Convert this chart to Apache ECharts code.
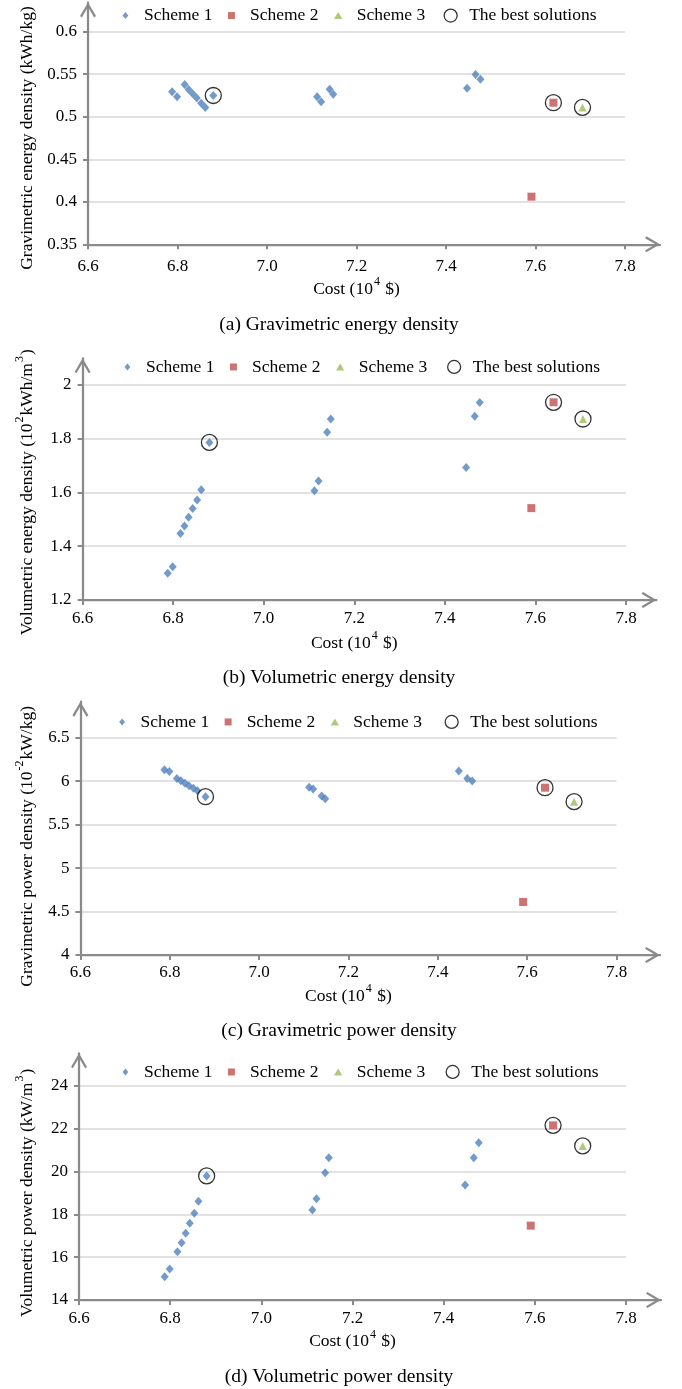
<!DOCTYPE html>
<html>
<head>
<meta charset="utf-8">
<script src="https://cdn.jsdelivr.net/npm/echarts@6/dist/echarts.min.js"></script>
<style>
html,body{margin:0;padding:0;background:#fff;}
#chart{width:682px;height:1389px;}
</style>
</head>
<body>
<div id="chart"></div>
<script>
// ---------------- DATA ----------------
const costScheme1 = [6.788, 6.799, 6.816, 6.825, 6.834, 6.843, 6.853, 6.862, 6.880, 7.112, 7.121, 7.140, 7.148, 7.447, 7.466, 7.477];
const costScheme2 = [7.591, 7.640];
const costScheme3 = [7.705];
// index of the circled ("best") solution inside each scheme
const bestIndex = [8, 1, 0];

const costTicks = { min: 6.6, max: 7.8, step: 0.2 };

// (a) gravimetric energy density, kWh/kg
const gedScheme1 = [0.5295, 0.5236, 0.538, 0.532, 0.527, 0.522, 0.516, 0.511, 0.525, 0.5236, 0.5177, 0.5322, 0.5263, 0.5334, 0.5498, 0.5440];
const gedScheme2 = [0.406, 0.5165];
const gedScheme3 = [0.511];
const gedTicks = { min: 0.35, max: 0.6, step: 0.05 };

// (b) volumetric energy density, 10^2 kWh/m^3
const vedScheme1 = [1.299, 1.323, 1.447, 1.475, 1.507, 1.540, 1.571, 1.609, 1.785, 1.606, 1.642, 1.823, 1.872, 1.692, 1.882, 1.933];
const vedScheme2 = [1.541, 1.934];
const vedScheme3 = [1.872];
const vedTicks = { min: 1.2, max: 2, step: 0.2 };

// (c) gravimetric power density, 10^-2 kW/kg
const gpdScheme1 = [6.13, 6.11, 6.032, 6.005, 5.975, 5.948, 5.917, 5.890, 5.821, 5.929, 5.910, 5.829, 5.798, 6.117, 6.032, 6.002];
const gpdScheme2 = [4.61, 5.925];
const gpdScheme3 = [5.764];
const gpdTicks = { min: 4, max: 6.5, step: 0.5 };

// (d) volumetric power density, kW/m^3
const vpdScheme1 = [15.09, 15.45, 16.25, 16.67, 17.11, 17.58, 18.05, 18.61, 19.79, 18.20, 18.73, 19.94, 20.64, 19.37, 20.64, 21.34];
const vpdScheme2 = [17.47, 22.15];
const vpdScheme3 = [21.19];
const vpdTicks = { min: 14, max: 24, step: 2 };

const seriesNames = ['Scheme 1', 'Scheme 2', 'Scheme 3', 'The best solutions'];
const xAxisName = 'Cost (10{sup|4} $)';
const yAxisNames = [
  'Gravimetric energy density (kWh/kg)',
  'Volumetric energy density (10{sup|2}kWh/m{sup|3})',
  'Gravimetric power density (10{sup|-2}kW/kg)',
  'Volumetric power density (kW/m{sup|3})'
];
const captions = [
  '(a) Gravimetric energy density',
  '(b) Volumetric energy density',
  '(c) Gravimetric power density',
  '(d) Volumetric power density'
];

const panelData = [
  [gedScheme1, gedScheme2, gedScheme3, gedTicks],
  [vedScheme1, vedScheme2, vedScheme3, vedTicks],
  [gpdScheme1, gpdScheme2, gpdScheme3, gpdTicks],
  [vpdScheme1, vpdScheme2, vpdScheme3, vpdTicks]
];

// ---------------- LAYOUT / STYLE ----------------
const FONT = '"Liberation Serif","Times New Roman",serif';
const AXIS_GRAY = '#8a8a8a';
const GRID_GRAY = '#d8d8d8';
const COLORS = ['#4F81BD', '#C0504D', '#9BBB59'];
const ARROW = 'path://M8,0 L16,13.6 L14.15,15 L8,4.5 L1.85,15 L0,13.6 Z';
const LEGEND_ICONS = [
  'path://M5,0 L10,6 L5,12 L0,6 Z',
  'path://M0,0 L10,0 L10,10 L0,10 Z',
  'path://M5,0 L11,10 L-1,10 Z'
];

const layout = [
  { left: 88,   top: 31.7,   right: 625,   bottom: 244.3, arrowTop: 2.5,    arrowRight: 660,   legendY: 15.3,   legendLeft: 122.5, legend2Left: 443.5, captionY: 325,    xLabelMargin: 13.5, xNameGap: 32 },
  { left: 82.6, top: 384.5,  right: 626,   bottom: 600,   arrowTop: 358.3,  arrowRight: 656.5, legendY: 366.7,  legendLeft: 124.5, legend2Left: 447,   captionY: 678,    xLabelMargin: 10.3, xNameGap: 30 },
  { left: 80.4, top: 737.7,  right: 616.5, bottom: 955,   arrowTop: 701.7,  arrowRight: 660,   legendY: 721.7,  legendLeft: 119.2, legend2Left: 444.5, captionY: 1030.7, xLabelMargin: 9.5,  xNameGap: 28 },
  { left: 79,   top: 1085.7, right: 626,   bottom: 1300,  arrowTop: 1053.3, arrowRight: 661,   legendY: 1071.7, legendLeft: 122.5, legend2Left: 445.5, captionY: 1376.7, xLabelMargin: 9.8,  xNameGap: 28.7 }
];

const nameStyle = {
  fontSize: 17.5, fontFamily: FONT, color: '#000', lineHeight: 26,
  rich: { sup: { fontSize: 12, lineHeight: 13, verticalAlign: 'top', fontFamily: FONT, color: '#000', padding: [0, 1, 0, 1] } }
};
const tickLabelStyle = { fontSize: 17, fontFamily: FONT, color: '#000' };

const grids = [], xAxes = [], yAxes = [], series = [], legends = [], graphics = [];

layout.forEach((L, k) => {
  const [s1, s2, s3, yT] = panelData[k];
  // data grid
  grids.push({ left: L.left, top: L.top, width: L.right - L.left, height: L.bottom - L.top, containLabel: false, outerBoundsMode: 'none' });
  // arrow (axis line) grid
  grids.push({ left: L.left, top: L.arrowTop, width: L.arrowRight - L.left, height: L.bottom - L.arrowTop, containLabel: false, outerBoundsMode: 'none' });

  xAxes.push({
    gridIndex: 2 * k, type: 'value', min: costTicks.min, max: costTicks.max, interval: costTicks.step,
    axisLine: { show: false },
    axisTick: { show: true, length: 5, lineStyle: { color: AXIS_GRAY, width: 2 } },
    splitLine: { show: false },
    axisLabel: { formatter: v => v.toFixed(1), margin: L.xLabelMargin, ...tickLabelStyle },
    name: xAxisName, nameLocation: 'middle', nameGap: L.xNameGap, nameMoveOverlap: false,
    nameTextStyle: nameStyle
  });
  xAxes.push({
    gridIndex: 2 * k + 1, type: 'value', min: 0, max: 1, z: 5,
    axisLine: { show: true, onZero: false, symbol: ['none', ARROW], symbolSize: [16, 15], symbolOffset: [0, -7.5],
      lineStyle: { color: AXIS_GRAY, width: 2.25 } },
    axisTick: { show: false }, axisLabel: { show: false }, splitLine: { show: false }
  });

  yAxes.push({
    gridIndex: 2 * k, type: 'value', min: yT.min, max: yT.max, interval: yT.step,
    axisLine: { show: false },
    axisTick: { show: true, length: 5, lineStyle: { color: AXIS_GRAY, width: 2 } },
    splitLine: { show: true, lineStyle: { color: GRID_GRAY, width: 1.5 } },
    axisLabel: { margin: 11, ...tickLabelStyle },
    name: yAxisNames[k], nameLocation: 'middle', nameRotate: 90, nameGap: L.left - 40, nameMoveOverlap: false,
    nameTextStyle: nameStyle
  });
  yAxes.push({
    gridIndex: 2 * k + 1, type: 'value', min: 0, max: 1, z: 5,
    axisLine: { show: true, onZero: false, symbol: ['none', ARROW], symbolSize: [16, 15], symbolOffset: [0, -7.5],
      lineStyle: { color: AXIS_GRAY, width: 2.25 } },
    axisTick: { show: false }, axisLabel: { show: false }, splitLine: { show: false }
  });

  const pts = (xs, ys) => xs.map((x, i) => [x, ys[i]]);
  const best = [
    [costScheme1[bestIndex[0]], s1[bestIndex[0]]],
    [costScheme2[bestIndex[1]], s2[bestIndex[1]]],
    [costScheme3[bestIndex[2]], s3[bestIndex[2]]]
  ];
  const common = { type: 'scatter', xAxisIndex: 2 * k, yAxisIndex: 2 * k, silent: true, animation: false };
  series.push({ ...common, name: seriesNames[0], data: pts(costScheme1, s1), symbol: 'diamond', symbolSize: [8, 9], itemStyle: { color: COLORS[0] } });
  series.push({ ...common, name: seriesNames[1], data: pts(costScheme2, s2), symbol: 'rect', symbolSize: 8, itemStyle: { color: COLORS[1] } });
  series.push({ ...common, name: seriesNames[2], data: pts(costScheme3, s3), symbol: 'triangle', symbolSize: 8, itemStyle: { color: COLORS[2] } });
  series.push({ ...common, name: seriesNames[3], data: best, symbol: 'circle', symbolSize: 16, z: 3,
    itemStyle: { color: 'rgba(255,255,255,0)', borderColor: '#000', borderWidth: 1.3 } });

  const legendCommon = { orient: 'horizontal', padding: 0, itemWidth: 27, selectedMode: false, symbolKeepAspect: true,
    textStyle: { fontSize: 17.5, fontFamily: FONT, color: '#000' } };
  legends.push({ ...legendCommon, left: L.legendLeft, top: L.legendY - 8.75, itemHeight: 7, itemGap: 15.5,
    data: seriesNames.slice(0, 3).map((n, i) => ({ name: n, icon: LEGEND_ICONS[i] })) });
  legends.push({ ...legendCommon, left: L.legend2Left, top: L.legendY - 8.75, itemHeight: 13,
    itemStyle: { borderWidth: 1.3 },
    data: [seriesNames[3]] });

  graphics.push({ type: 'text', x: 339, y: L.captionY, silent: true,
    style: { text: captions[k], fontSize: 19.5, fontFamily: FONT, fill: '#000', align: 'center', verticalAlign: 'middle', textAlign: 'center', textVerticalAlign: 'middle' } });
});

const chart = echarts.init(document.getElementById('chart'), null, { renderer: 'canvas' });
chart.setOption({
  animation: false,
  backgroundColor: '#fff',
  textStyle: { fontFamily: FONT },
  grid: grids,
  xAxis: xAxes,
  yAxis: yAxes,
  legend: legends,
  series: series,
  graphic: graphics
});
</script>
</body>
</html>
